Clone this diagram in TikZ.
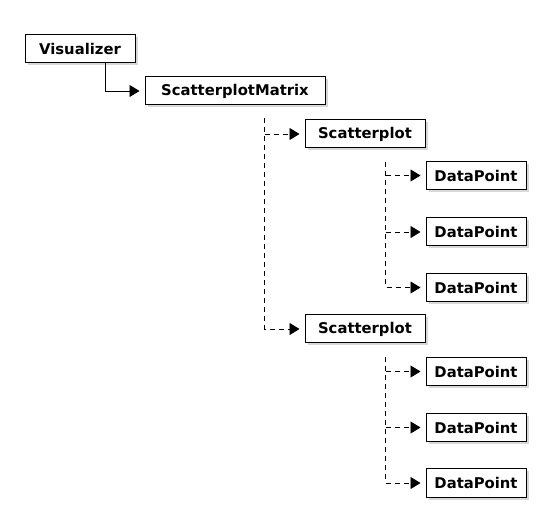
\documentclass[tikz,border=0pt]{standalone}
\usepackage{fontspec}
\setmainfont{DejaVu Sans}
\usetikzlibrary{calc,arrows.meta,shadows}

\tikzset{
	classbox/.style={draw, line width=1pt, fill=white, minimum height=28pt,
		inner sep=0pt, font=\fontsize{14.8}{17}\selectfont\bfseries,
		drop shadow={shadow xshift=2.5pt, shadow yshift=-2.5pt, fill=black!30}},
	haslink/.style={line width=0.8pt, -{Triangle[length=10pt,width=12pt]}, shorten >=5pt},
	dashlink/.style={haslink, dash pattern=on 5pt off 4pt},
}

\begin{document}
\begin{tikzpicture}[x=1pt,y=-1pt]

	\useasboundingbox (0,0) rectangle (550,532);

	% classes
	\node[classbox, minimum width=110pt] (vis) at (80,49)  {Visualizer};
	\node[classbox, minimum width=180pt] (smx) at (235,91) {ScatterplotMatrix};

	\node[classbox, minimum width=120pt] (sp1) at (365,134) {Scatterplot};
	\node[classbox, minimum width=120pt] (sp2) at (365,329) {Scatterplot};

	\node[classbox, minimum width=100pt] (dpa) at (476,175.5) {DataPoint};
	\node[classbox, minimum width=100pt] (dpb) at (476,232)   {DataPoint};
	\node[classbox, minimum width=100pt] (dpc) at (476,287.5) {DataPoint};
	\node[classbox, minimum width=100pt] (dpd) at (476,371.5) {DataPoint};
	\node[classbox, minimum width=100pt] (dpe) at (476,427.5) {DataPoint};
	\node[classbox, minimum width=100pt] (dpf) at (476,483)   {DataPoint};

	% trunk tops
	\coordinate (vistop) at ([xshift=25pt]vis.south);
	\coordinate (smxtop) at ([xshift=120pt,yshift=-13pt]smx.south west);
	\coordinate (spatop) at ([xshift=81pt,yshift=-14pt]sp1.south west);
	\coordinate (spbtop) at ([xshift=81pt,yshift=-14pt]sp2.south west);

	% solid link
	\draw[haslink] (vistop) |- (smx.west);

	% dashed links
	\draw[dashlink] (smxtop) |- (sp2.west);
	\draw[dashlink] (smxtop |- sp1.west) -- (sp1.west);

	\draw[dashlink] (spatop) |- (dpc.west);
	\draw[dashlink] (spatop |- dpa.west) -- (dpa.west);
	\draw[dashlink] (spatop |- dpb.west) -- (dpb.west);

	\draw[dashlink] (spbtop) |- (dpf.west);
	\draw[dashlink] (spbtop |- dpd.west) -- (dpd.west);
	\draw[dashlink] (spbtop |- dpe.west) -- (dpe.west);

\end{tikzpicture}
\end{document}
